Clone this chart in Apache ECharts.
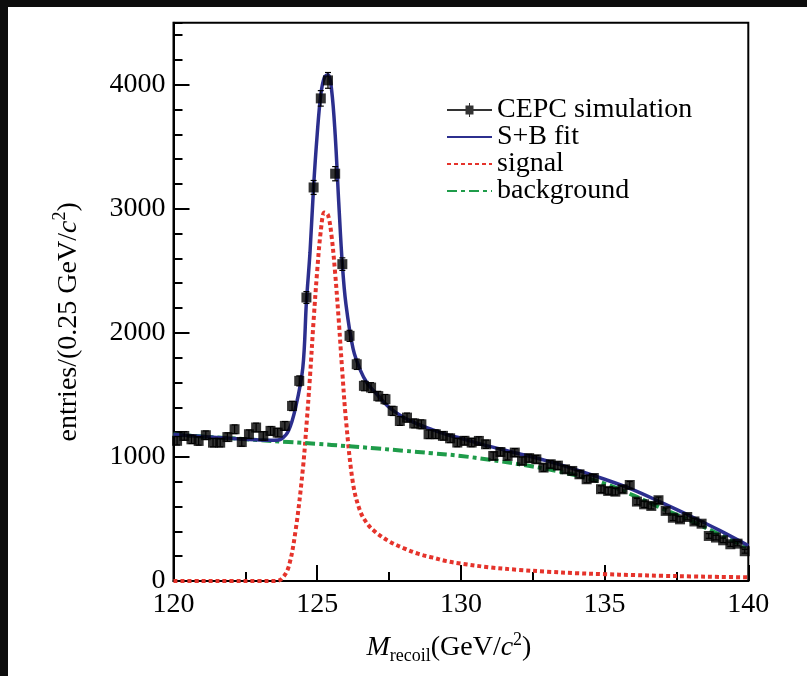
<!DOCTYPE html>
<html>
<head>
<meta charset="utf-8">
<script src="https://cdn.jsdelivr.net/npm/echarts@6/dist/echarts.min.js"></script>
<style>
html,body{margin:0;padding:0;background:#0d0d0d;width:807px;height:676px;overflow:hidden;}
#c{position:absolute;left:8px;top:7px;width:799px;height:669px;background:#fff;}
</style>
</head>
<body>
<div id="c"></div>
<script>
// ---- data ----
const binStart = 120, binWidth = 0.25;
const dataCounts = [
 1130,1169,1142,1129, 1175,1115,1115,1160, 1223,1120,1183,1237, 1169,1210,1196,1250,
 1411,1613,2285,3172, 3890,4035,3283,2554, 1976,1747,1573,1559, 1490,1465,1371,1290,
 1317,1270,1263,1183, 1183,1170,1150,1116, 1130,1116,1129,1102, 1008,1040,1008,1035,
 968,990,981,914, 941,930,900,887, 860,820,830,740, 726,720,739,774,
 640,618,605,651, 565,510,497,516, 480,462,363,350, 328,296,301,240
];
const curveX = [120,121,122,123,123.5,123.75,124,124.25,124.5,124.625,124.75,124.875,125,125.125,125.25,125.375,125.5,125.625,125.75,125.875,126,126.25,126.5,126.75,127,127.5,128,128.5,129,129.5,130,131,132,133,134,135,136,137,138,139,140];
const fitY = [1180,1165,1150,1137,1135,1145,1210,1400,1720,2250,2650,3180,3600,3920,4060,4080,3960,3600,3050,2550,2230,1870,1700,1590,1525,1400,1320,1265,1220,1180,1150,1085,1028,968,898,820,735,630,522,408,285];
const signalY = [0,0,0,0,0,15,110,410,900,1250,1650,2100,2500,2820,2970,2950,2780,2480,2100,1680,1300,780,560,460,400,320,265,220,190,160,140,110,90,75,63,55,48,42,37,33,30];
const bgX = [120,121,122,123,124,125,126,127,128,129,130,131,132,133,134,135,136,137,138,139,140];
const bgY = [1180,1165,1150,1135,1120,1105,1088,1070,1050,1030,1008,977,942,902,852,785,690,585,485,375,265];
const xTicks = [120,125,130,135,140];
const yTicks = [0,1000,2000,3000,4000];
const legendNames = ['CEPC simulation','S+B fit','signal','background'];

// ---- build ----
const pts = dataCounts.map((v,i)=>[binStart + binWidth*(i+0.5), v, Math.sqrt(v)]);
const zip = (xs, ys) => xs.map((x,i)=>[x, ys[i]]);
const FONT = "'Liberation Serif','DejaVu Serif',serif";
const BLUE = '#2c2f8e', RED = '#e5332b', GREEN = '#1f9c4a';
const hideSym = {opacity:0};

const chart = echarts.init(document.getElementById('c'), null, {renderer:'canvas'});
chart.setOption({
  animation:false,
  backgroundColor:'#fff',
  grid:{left:165.5, right:58.7, top:15.7, bottom:95, show:true, borderColor:'#000', borderWidth:2, backgroundColor:'transparent', containLabel:false},
  legend:{
    orient:'vertical', left:433, top:84, itemWidth:45, itemHeight:14, itemGap:-1,
    textStyle:{fontFamily:FONT, fontSize:28, color:'#000', lineHeight:26},
    data:[
      {name:legendNames[0], icon:'path://M0,6 H45 V8 H0 Z M18.5,2.5 H26.5 V11.5 H18.5 Z M22,0 H23 V14 H22 Z', itemStyle:{color:'#000'}},
      {name:legendNames[1], itemStyle:hideSym},
      {name:legendNames[2], itemStyle:hideSym},
      {name:legendNames[3], itemStyle:hideSym}
    ]
  },
  xAxis:{
    type:'value', min:120, max:140, interval:5,
    name:'{i|M}{sub|recoil}{a|(GeV/}{i|c}{sup|2}{a|)}', nameLocation:'middle', nameGap:50,
    nameTextStyle:{padding:[0,24,0,0], rich:{
      a:{fontFamily:FONT, fontSize:28, color:'#000', lineHeight:34},
      i:{fontFamily:FONT, fontSize:28, fontStyle:'italic', color:'#000', lineHeight:34},
      sub:{fontFamily:FONT, fontSize:18, color:'#000', lineHeight:34, verticalAlign:'bottom'},
      sup:{fontFamily:FONT, fontSize:18, color:'#000', lineHeight:34, verticalAlign:'top'}
    }},
    axisLine:{show:true, onZero:false, lineStyle:{color:'#000', width:2}},
    axisTick:{show:true, inside:true, length:16, lineStyle:{color:'#000', width:2}},
    minorTick:{show:true, splitNumber:2, length:9, lineStyle:{color:'#000', width:2}},
    axisLabel:{fontFamily:FONT, fontSize:28, color:'#000', margin:10,
      formatter:v=> xTicks.includes(v) ? String(v) : ''},
    splitLine:{show:false}
  },
  yAxis:[{
    type:'value', min:0, max:4500, interval:1000, position:'left',
    name:'{a|entries/(0.25 GeV/}{i|c}{sup|2}{a|)}', nameLocation:'middle', nameGap:88, nameRotate:90,
    nameTextStyle:{padding:[0,40,0,0], rich:{
      a:{fontFamily:FONT, fontSize:28, color:'#000', lineHeight:34},
      i:{fontFamily:FONT, fontSize:28, fontStyle:'italic', color:'#000', lineHeight:34},
      sup:{fontFamily:FONT, fontSize:18, color:'#000', lineHeight:34, verticalAlign:'top'}
    }},
    axisLine:{show:true, onZero:false, lineStyle:{color:'#000', width:2}},
    axisTick:{show:true, inside:true, length:16, lineStyle:{color:'#000', width:2}},
    axisLabel:{fontFamily:FONT, fontSize:28, color:'#000', margin:8, showMaxLabel:false,
      formatter:v=> yTicks.includes(v) ? String(v) : ''},
    splitLine:{show:false}
  },{
    type:'value', min:0, max:4500, interval:200, position:'left',
    axisLine:{show:false}, axisLabel:{show:false}, splitLine:{show:false},
    axisTick:{show:true, inside:true, length:9, lineStyle:{color:'#000', width:2}}
  }],
  series:[
    {name:legendNames[2], type:'line', data:zip(curveX, signalY), smooth:0.35, symbol:'none', z:2,
     lineStyle:{color:RED, width:4, type:[4,3], cap:'butt'}, itemStyle:{color:RED}},
    {name:legendNames[3], type:'line', data:zip(bgX, bgY), smooth:0.4, symbol:'none', z:3,
     lineStyle:{color:GREEN, width:4, type:[10,4,4,4], cap:'butt'}, itemStyle:{color:GREEN}},
    {name:legendNames[1], type:'line', data:zip(curveX, fitY), smooth:0.35, symbol:'none', z:4,
     lineStyle:{color:BLUE, width:3.5}, itemStyle:{color:BLUE}},
    {name:'err', type:'custom', z:5, data:pts, encode:{x:0,y:1},
     renderItem:(params, api)=>{
       const x=api.value(0), y=api.value(1), e=api.value(2);
       const t=api.coord([x,y+e]), b=api.coord([x,y-e]);
       const st={stroke:'#000', lineWidth:1.2};
       return {type:'group', children:[
         {type:'line', shape:{x1:t[0],y1:t[1],x2:b[0],y2:b[1]}, style:st},
         {type:'line', shape:{x1:t[0]-3,y1:t[1],x2:t[0]+3,y2:t[1]}, style:st},
         {type:'line', shape:{x1:b[0]-3,y1:b[1],x2:b[0]+3,y2:b[1]}, style:st}
       ]};
     }},
    {name:legendNames[0], type:'scatter', data:pts.map(p=>[p[0],p[1]]), symbol:'rect', symbolSize:[10,10], z:6,
     itemStyle:{color:'#000'}}
  ]
});
</script>
</body>
</html>
